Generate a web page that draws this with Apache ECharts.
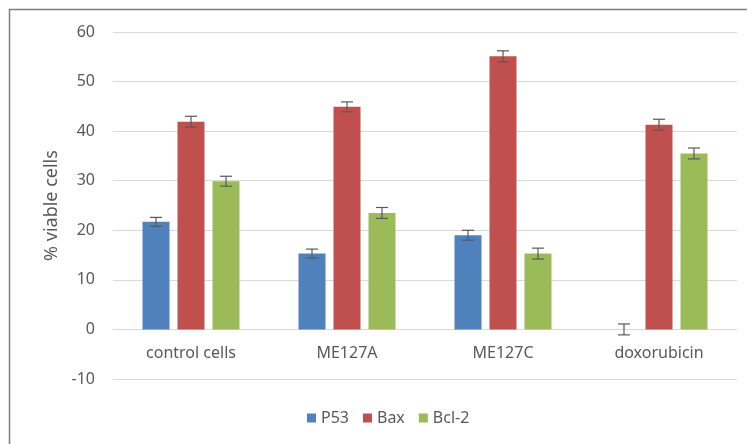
<!DOCTYPE html>
<html>
<head>
<meta charset="utf-8">
<script src="https://cdn.jsdelivr.net/npm/echarts@6/dist/echarts.min.js"></script>
<style>
html,body{margin:0;padding:0;background:#fff;}
#c{width:747px;height:444px;}
</style>
</head>
<body>
<div id="c"></div>
<script>
const categories = ['control cells', 'ME127A', 'ME127C', 'doxorubicin'];
const seriesNames = ['P53', 'Bax', 'Bcl-2'];
const p53 = [21.7, 15.3, 19.0, 0];
const bax = [41.9, 44.9, 55.1, 41.3];
const bcl2 = [29.9, 23.5, 15.3, 35.5];
const p53Err = [0.9, 0.9, 1.0, 1.1];
const baxErr = [1.1, 1.0, 1.1, 1.1];
const bcl2Err = [1.0, 1.1, 1.1, 1.1];
const yTicks = { min: -10, max: 60, interval: 10 };

const colors = ['#4F81BD', '#C0504D', '#9BBB59'];
const values = [p53, bax, bcl2];
const errs = [p53Err, baxErr, bcl2Err];
const BAR_W = 27;
const GAP = 8;
const font = 'Noto Sans';

const chart = echarts.init(document.getElementById('c'));

function errSeries(k) {
  return {
    type: 'custom',
    name: seriesNames[k] + ' error',
    z: 10,
    data: values[k].map((v, i) => [i, v - errs[k][i], v + errs[k][i]]),
    renderItem: function (params, api) {
      const idx = api.value(0);
      const lo = api.coord([idx, api.value(1)]);
      const hi = api.coord([idx, api.value(2)]);
      const x = lo[0] + (k - 1) * (BAR_W + GAP);
      const cap = 6;
      const st = { stroke: '#595959', lineWidth: 1.2 };
      return {
        type: 'group',
        children: [
          { type: 'line', shape: { x1: x, y1: lo[1], x2: x, y2: hi[1] }, style: st },
          { type: 'line', shape: { x1: x - cap, y1: lo[1], x2: x + cap, y2: lo[1] }, style: st },
          { type: 'line', shape: { x1: x - cap, y1: hi[1], x2: x + cap, y2: hi[1] }, style: st }
        ]
      };
    }
  };
}

const barSeries = seriesNames.map((n, k) => ({
  type: 'bar',
  name: n,
  data: values[k],
  barWidth: BAR_W,
  barGap: (GAP / BAR_W * 100).toFixed(1) + '%',
  itemStyle: { color: colors[k] },
  emphasis: { disabled: true }
}));

chart.setOption({
  animation: false,
  textStyle: { fontFamily: font },
  graphic: [{
    type: 'rect',
    shape: { x: 9.5, y: 9.5, width: 800, height: 500 },
    style: { fill: 'none', stroke: '#7f7f7f', lineWidth: 1.5 },
    silent: true
  }],
  grid: { left: 113, right: 10, top: 32, bottom: 65 },
  legend: {
    data: seriesNames,
    top: 410,
    left: 307,
    padding: 0,
    itemWidth: 9,
    itemHeight: 9,
    itemGap: 14,
    icon: 'rect',
    textStyle: { color: '#595959', fontSize: 16, fontFamily: font }
  },
  xAxis: {
    type: 'category',
    data: categories,
    offset: -49,
    axisLine: { show: false, onZero: false },
    axisTick: { show: false },
    axisLabel: { color: '#595959', fontSize: 16, margin: 15, fontFamily: font },
    splitLine: { show: false }
  },
  yAxis: {
    type: 'value',
    min: yTicks.min,
    max: yTicks.max,
    interval: yTicks.interval,
    name: '% viable cells',
    nameLocation: 'middle',
    nameGap: 50,
    nameTextStyle: { color: '#595959', fontSize: 18, fontFamily: font },
    axisLine: { show: false },
    axisTick: { show: false },
    axisLabel: { color: '#595959', fontSize: 16, margin: 18, fontFamily: font },
    splitLine: { lineStyle: { color: '#D9D9D9', width: 1 } }
  },
  series: barSeries.concat([errSeries(0), errSeries(1), errSeries(2)])
});
</script>
</body>
</html>
